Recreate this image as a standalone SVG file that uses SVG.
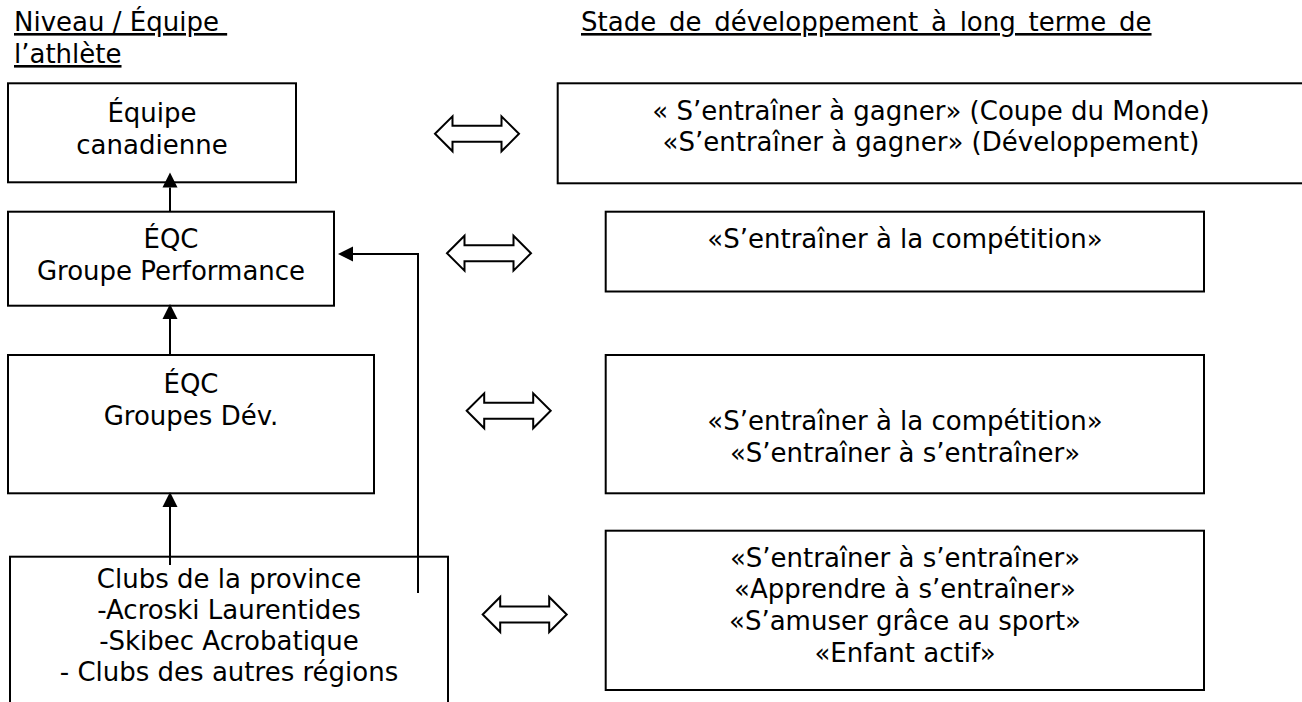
<svg xmlns="http://www.w3.org/2000/svg" width="1302" height="702" viewBox="0 0 1302 702">
<style>
  text { font-family: "DejaVu Sans", "Liberation Sans", sans-serif; font-size: 26px; fill: #000; }
  .c { text-anchor: middle; }
  .hdr { text-decoration: underline; white-space: pre; }
  .box { fill: #fff; stroke: #000; stroke-width: 2; }
  .conn { fill: none; stroke: #000; stroke-width: 2; }
  .dbl { fill: #fff; stroke: #000; stroke-width: 2; stroke-linejoin: miter; }
</style>
<defs>
  <marker id="head" markerUnits="userSpaceOnUse" markerWidth="16" markerHeight="16" refX="0" refY="7.5" orient="auto" overflow="visible">
    <path d="M0,0 L15,7.5 L0,15 z" fill="#000"/>
  </marker>
  <path id="dblarrow" d="M0,0 L17.5,-17.5 L17.5,-8 L66.5,-8 L66.5,-17.5 L84,0 L66.5,17.5 L66.5,8 L17.5,8 L17.5,17.5 z"/>
</defs>
<rect width="1302" height="702" fill="#fff"/>

<g id="headers">
  <text class="hdr" x="14" y="31" xml:space="preserve">Niveau / Équipe </text>
  <text class="hdr" x="14" y="63">l’athlète</text>
  <text class="hdr" x="581" y="31" style="word-spacing:4.5px">Stade de développement à long terme de</text>
</g>

<g id="node-equipe-canadienne">
  <rect class="box" x="8" y="83.3" width="288" height="99"/>
  <text class="c" x="152" y="122">Équipe</text>
  <text class="c" x="152" y="154">canadienne</text>
</g>

<g id="node-eqc-performance">
  <rect class="box" x="8" y="211.7" width="326" height="94"/>
  <text class="c" x="171" y="248">ÉQC</text>
  <text class="c" x="171" y="280">Groupe Performance</text>
</g>

<g id="node-eqc-dev">
  <rect class="box" x="8" y="355" width="366" height="138.3"/>
  <text class="c" x="191" y="393">ÉQC</text>
  <text class="c" x="191" y="425">Groupes Dév.</text>
</g>

<g id="node-clubs">
  <rect class="box" x="10" y="556.7" width="438" height="200"/>
  <text class="c" x="229" y="588">Clubs de la province</text>
  <text class="c" x="229" y="619">-Acroski Laurentides</text>
  <text class="c" x="229" y="650">-Skibec Acrobatique</text>
  <text class="c" x="229" y="681">- Clubs des autres régions</text>
</g>

<g id="stage-gagner">
  <rect class="box" x="557.7" y="83.3" width="746" height="100"/>
  <text class="c" x="931" y="120">« S’entraîner à gagner» (Coupe du Monde)</text>
  <text class="c" x="931" y="151">«S’entraîner à gagner» (Développement)</text>
</g>

<g id="stage-competition">
  <rect class="box" x="605.7" y="211.7" width="598.3" height="79.8"/>
  <text class="c" x="905" y="248">«S’entraîner à la compétition»</text>
</g>

<g id="stage-competition-entrainer">
  <rect class="box" x="605.7" y="355" width="598.3" height="138.3"/>
  <text class="c" x="905" y="430">«S’entraîner à la compétition»</text>
  <text class="c" x="905" y="461.7">«S’entraîner à s’entraîner»</text>
</g>

<g id="stage-base">
  <rect class="box" x="605.7" y="530.7" width="598.3" height="159.3"/>
  <text class="c" x="905" y="566.7">«S’entraîner à s’entraîner»</text>
  <text class="c" x="905" y="598.3">«Apprendre à s’entraîner»</text>
  <text class="c" x="905" y="630">«S’amuser grâce au sport»</text>
  <text class="c" x="905" y="661.7">«Enfant actif»</text>
</g>

<g id="connectors">
  <path class="conn" d="M170,211.7 V187.5" marker-end="url(#head)"/>
  <path class="conn" d="M170,355 V319" marker-end="url(#head)"/>
  <path class="conn" d="M170,565 V507" marker-end="url(#head)"/>
  <path class="conn" d="M418,593 V254 H353" marker-end="url(#head)"/>
  <use href="#dblarrow" class="dbl" x="435" y="133.8"/>
  <use href="#dblarrow" class="dbl" x="447" y="253.2"/>
  <use href="#dblarrow" class="dbl" x="466.7" y="410.8"/>
  <use href="#dblarrow" class="dbl" x="482.7" y="614.5"/>
</g>
</svg>
